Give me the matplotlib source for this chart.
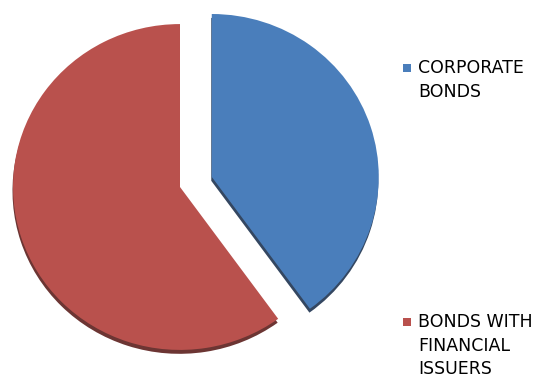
import matplotlib
matplotlib.use("Agg")
import matplotlib.pyplot as plt
from matplotlib.patches import Rectangle

labels = ["CORPORATE\nBONDS", "BONDS WITH\nFINANCIAL\nISSUERS"]
values = [40, 60]
colors = ["#4A7EBB", "#B9514D"]
shadow_colors = ["#1E3350", "#5C1F1D"]
explode_frac = [0.2, 0.0]

W, H = 537, 383
fig = plt.figure(figsize=(W / 100, H / 100), dpi=100)
ax = fig.add_axes([0, 0, 1, 1])
ystretch = 1.025

cx, cy, r = 180, (H - 187) * ystretch, 167
explode = [f * r for f in explode_frac]

# shadow
ax.pie(values, colors=shadow_colors, explode=explode, startangle=90,
       counterclock=False, center=(cx - 0.5, cy - 4), radius=r,
       wedgeprops=dict(linewidth=0, alpha=0.9), frame=True)
ax.pie(values, colors=colors, explode=explode, startangle=90,
       counterclock=False, center=(cx, cy), radius=r,
       wedgeprops=dict(linewidth=0), frame=True)
ax.set_xlim(0, W)
ax.set_ylim(0, H * ystretch)
ax.set_aspect("auto")
ax.axis("off")

# legend (manual)
legend_y = [68, 322]
for lab, col, y in zip(labels, colors, legend_y):
    fig.patches.append(Rectangle(((407 - 4) / W, 1 - (y + 4) / H), 8 / W, 8 / H,
                                 transform=fig.transFigure, facecolor=col,
                                 edgecolor="none"))
    fig.text(418 / W, 1 - (y - 9) / H, lab, ha="left", va="top",
             fontsize=12.5, family="DejaVu Sans", color="#000000",
             linespacing=1.4)

fig.savefig("out.png", dpi=100)
